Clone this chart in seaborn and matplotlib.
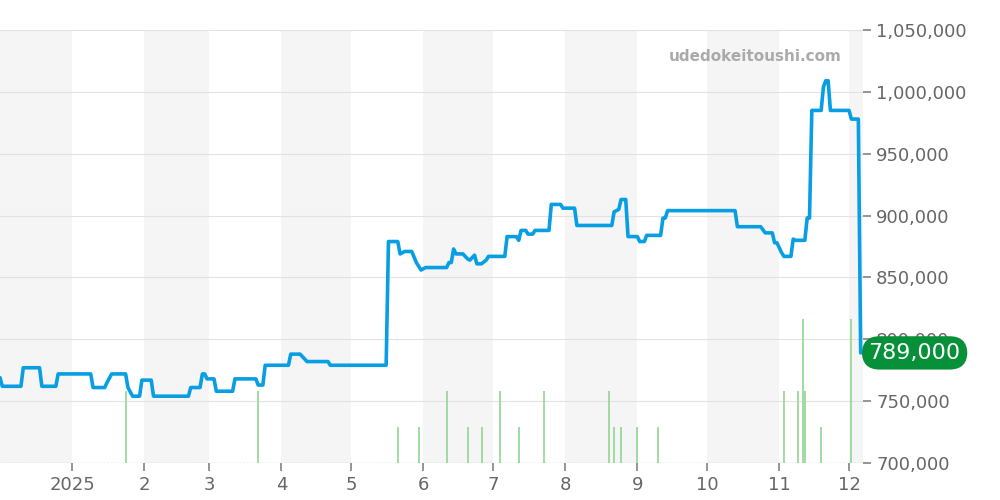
import pandas as pd
import matplotlib.pyplot as plt
import seaborn as sns

# === Price series (date, yen) ===
price_dates = [
    "2024-12-01", "2024-12-02", "2024-12-10", "2024-12-11", "2024-12-18", "2024-12-19", "2024-12-25", "2024-12-26",
    "2025-01-09", "2025-01-10", "2025-01-15", "2025-01-16", "2025-01-18", "2025-01-24", "2025-01-25", "2025-01-27",
    "2025-01-30", "2025-01-31", "2025-02-04", "2025-02-05", "2025-02-20", "2025-02-21", "2025-02-25", "2025-02-26",
    "2025-02-27", "2025-02-28", "2025-03-03", "2025-03-04", "2025-03-11", "2025-03-12", "2025-03-21", "2025-03-22",
    "2025-03-24", "2025-03-25", "2025-04-04", "2025-04-05", "2025-04-09", "2025-04-12", "2025-04-21", "2025-04-22",
    "2025-05-16", "2025-05-17", "2025-05-21", "2025-05-22", "2025-05-24", "2025-05-27", "2025-05-29", "2025-05-31",
    "2025-06-02", "2025-06-11", "2025-06-12", "2025-06-13", "2025-06-14", "2025-06-15", "2025-06-18", "2025-06-20",
    "2025-06-21", "2025-06-23", "2025-06-24", "2025-06-26", "2025-06-28", "2025-06-29", "2025-07-06", "2025-07-07",
    "2025-07-11", "2025-07-12", "2025-07-13", "2025-07-15", "2025-07-16", "2025-07-18", "2025-07-19", "2025-07-25",
    "2025-07-26", "2025-07-30", "2025-07-31", "2025-08-05", "2025-08-06", "2025-08-21", "2025-08-22", "2025-08-24",
    "2025-08-25", "2025-08-27", "2025-08-28", "2025-09-01", "2025-09-02", "2025-09-04", "2025-09-05", "2025-09-11",
    "2025-09-12", "2025-09-13", "2025-09-14", "2025-10-13", "2025-10-14", "2025-10-24", "2025-10-26", "2025-10-29",
    "2025-10-30", "2025-10-31", "2025-11-02", "2025-11-03", "2025-11-06", "2025-11-07", "2025-11-08", "2025-11-12",
    "2025-11-13", "2025-11-14", "2025-11-15", "2025-11-19", "2025-11-20", "2025-11-21", "2025-11-22", "2025-11-23",
    "2025-12-01", "2025-12-02", "2025-12-05", "2025-12-06",
]
price_values = [
    769000, 762000, 762000, 777000, 777000, 762000, 762000, 772000,
    772000, 761000, 761000, 765000, 772000, 772000, 761000, 754000,
    754000, 767000, 767000, 754000, 754000, 761000, 761000, 772000,
    772000, 768000, 768000, 758000, 758000, 768000, 768000, 763000,
    763000, 779000, 779000, 788000, 788000, 782000, 782000, 779000,
    779000, 879000, 879000, 869000, 871000, 871000, 862000, 856000,
    858000, 858000, 862000, 862000, 873000, 869000, 869000, 865000,
    864000, 868000, 861000, 861000, 864000, 867000, 867000, 883000,
    883000, 880000, 888000, 888000, 885000, 885000, 888000, 888000,
    909000, 909000, 906000, 906000, 892000, 892000, 903000, 905000,
    913000, 913000, 883000, 883000, 879000, 879000, 884000, 884000,
    898000, 898000, 904000, 904000, 891000, 891000, 886000, 886000,
    878000, 878000, 870000, 867000, 867000, 881000, 880000, 880000,
    898000, 898000, 985000, 985000, 1004000, 1009000, 1009000, 985000,
    985000, 978000, 978000, 789000,
]

# === Listing counts (green bars) ===
volume_dates = [
    "2025-01-24", "2025-03-22", "2025-05-21", "2025-05-30", "2025-06-11", "2025-06-20", "2025-06-26",
    "2025-07-04", "2025-07-12", "2025-07-23", "2025-08-20", "2025-08-22", "2025-08-25", "2025-09-01",
    "2025-09-10", "2025-11-03", "2025-11-09", "2025-11-11", "2025-11-12", "2025-11-19", "2025-12-02",
]
volume_counts = [2, 2, 1, 1, 2, 1, 1, 2, 1, 2, 2, 1, 1, 1, 1, 2, 2, 4, 2, 1, 4]

y_ticks = [700000, 750000, 800000, 850000, 900000, 950000, 1000000, 1050000]
month_ticks = ["2025-01-01", "2025-02-01", "2025-03-01", "2025-04-01", "2025-05-01", "2025-06-01",
               "2025-07-01", "2025-08-01", "2025-09-01", "2025-10-01", "2025-11-01", "2025-12-01"]
month_labels = ["2025", "2", "3", "4", "5", "6", "7", "8", "9", "10", "11", "12"]
shaded_months = ["2024-12-01", "2025-02-01", "2025-04-01", "2025-06-01", "2025-08-01", "2025-10-01", "2025-12-01"]

price_df = pd.DataFrame({"date": pd.to_datetime(price_dates), "price": price_values})
vol_df = pd.DataFrame({"date": pd.to_datetime(volume_dates), "count": volume_counts})

sns.set_theme(style="white")
plt.rcParams["font.family"] = ["DejaVu Sans"]

fig = plt.figure(figsize=(10, 5), dpi=100)
ax = fig.add_axes([0.0, 0.074, 0.863, 0.866])

x_start, x_end = pd.Timestamp("2024-12-01"), pd.Timestamp("2025-12-07")
base = 700000

# alternating month shading
for m in shaded_months:
    s = pd.Timestamp(m)
    e = min(s + pd.offsets.MonthBegin(1), x_end)
    ax.axvspan(s, e, color="#f5f5f5", zorder=0, lw=0)

for yv in y_ticks:
    ax.axhline(yv, color="#e2e2e2", lw=0.8, zorder=1)

# volume bars drawn from baseline
ax.vlines(vol_df["date"], base, base + vol_df["count"] * 29000, color="#9ad89a", lw=1.3, zorder=2)
ax.axhline(base, color="#9ad89a", lw=1, ls=":", zorder=2)

sns.lineplot(data=price_df, x="date", y="price", ax=ax, color="#079ee4", lw=2.6, zorder=3)

ax.set_xlim(x_start, x_end)
ax.set_ylim(base, 1050000)
ax.set_xlabel("")
ax.set_ylabel("")
ax.set_xticks(pd.to_datetime(month_ticks))
ax.set_xticklabels(month_labels)
ax.yaxis.tick_right()
ax.set_yticks(y_ticks)
ax.set_yticklabels([f"{v:,}" for v in y_ticks])
ax.tick_params(axis="both", labelsize=13, length=6, direction="out",
               left=False, bottom=True, right=True)
ax.tick_params(axis="y", colors="#888888", labelcolor="#666666")
ax.tick_params(axis="x", colors="#888888", labelcolor="#666666")
for sp in ax.spines.values():
    sp.set_visible(False)

ax.text(0.975, 0.955, "udedokeitoushi.com", transform=ax.transAxes, ha="right", va="top",
        fontsize=11, fontweight="bold", color="#aaaaaa")

ax.annotate(f"{price_values[-1]:,}", xy=(1.0, price_values[-1]), xycoords=("axes fraction", "data"),
            xytext=(4, 0), textcoords="offset points", ha="left", va="center", fontsize=16,
            color="white", bbox=dict(boxstyle="round,pad=0.3,rounding_size=0.8", fc="#07903a", ec="none"),
            zorder=5, annotation_clip=False)

fig.savefig("out.png", dpi=100)
